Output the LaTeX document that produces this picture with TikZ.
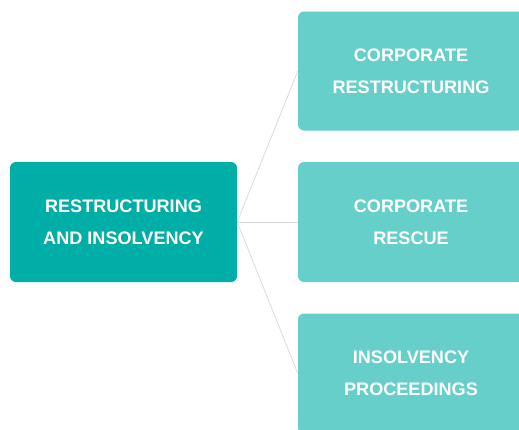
\documentclass[tikz,border=0pt]{standalone}
\usepackage{fontspec}
\setmainfont{Liberation Sans}
\definecolor{darkteal}{RGB}{0,174,168}
\definecolor{lightteal}{RGB}{103,207,202}
\definecolor{linegray}{RGB}{218,218,218}
\tikzset{
  box/.style={rounded corners=6pt, minimum height=120pt, text=white, align=center,
    font=\fontsize{18.1pt}{32pt}\selectfont\bfseries, inner sep=0pt},
  rootbox/.style={box, fill=darkteal, minimum width=227pt},
  childbox/.style={box, fill=lightteal, minimum width=226pt},
  conn/.style={draw=linegray, line width=0.8pt}
}
\begin{document}
\begin{tikzpicture}[x=1pt,y=1pt]
\useasboundingbox (0,0) rectangle (519,-429);
\clip (0,0) rectangle (519,-429);
\node[rootbox] (root) at (123.5,-222) {RESTRUCTURING\\AND INSOLVENCY};
\node[childbox, minimum height=119pt] (c1) at (411,-71) {CORPORATE\\RESTRUCTURING};
\node[childbox] (c2) at (411,-222) {CORPORATE\\RESCUE};
\node[childbox] (c3) at (411,-373.5) {INSOLVENCY\\PROCEEDINGS};
\draw[conn] (root.east) -- (c1.west);
\draw[conn] (root.east) -- (c2.west);
\draw[conn] (root.east) -- (c3.west);
\end{tikzpicture}
\end{document}
